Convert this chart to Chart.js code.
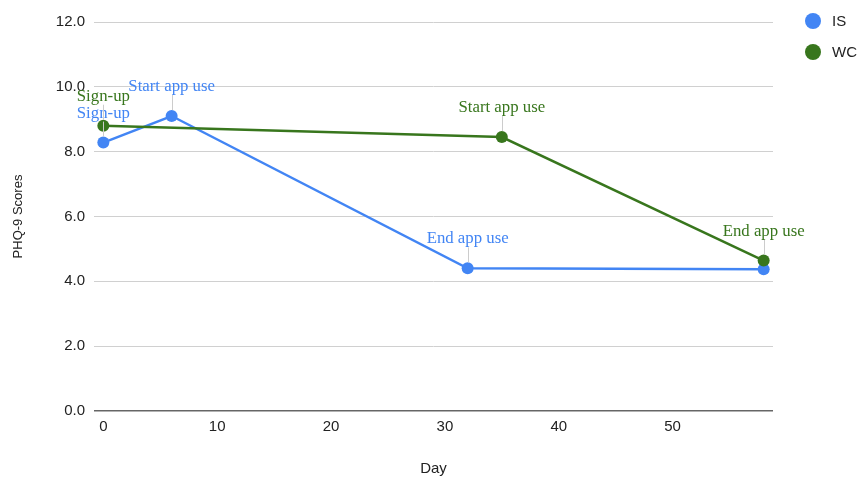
<!DOCTYPE html>
<html>
<head>
<meta charset="utf-8">
<title>PHQ-9 Scores by Day</title>
<script src="https://cdn.jsdelivr.net/npm/chart.js@4.4.1/dist/chart.umd.min.js"></script>
<style>
  html, body { margin: 0; padding: 0; background: #fff; }
  canvas { display: block; }
</style>
</head>
<body>
<canvas id="chart" width="860" height="479"></canvas>
<script>
// Series: day of study vs PHQ-9 score, with milestone notes per point
const seriesNames = ['IS', 'WC'];
const isDays = [0, 6, 32, 58];
const isScores = [8.28, 9.1, 4.4, 4.37];
const isNotes = ['Sign-up', 'Start app use', 'End app use', ''];
const wcDays = [0, 35, 58];
const wcScores = [8.8, 8.45, 4.64];
const wcNotes = ['Sign-up', 'Start app use', 'End app use'];
const xTicks = [0, 10, 20, 30, 40, 50];
const yTicks = [0, 2, 4, 6, 8, 10, 12];

const BLUE = '#4285f4';
const GREEN = '#38761d';

const toPoints = (xs, ys) => xs.map((x, i) => ({ x: x, y: ys[i] }));

// Milestone labels above points, each with a thin stem
const notesPlugin = {
  id: 'milestoneNotes',
  afterDatasetsDraw(chart) {
    const ctx = chart.ctx;
    ctx.save();
    chart.data.datasets.forEach((ds, di) => {
      const meta = chart.getDatasetMeta(di);
      meta.data.forEach((pt, i) => {
        const note = ds.notes[i];
        if (!note) return;
        ctx.strokeStyle = '#cccccc';
        ctx.lineWidth = 1;
        ctx.beginPath();
        ctx.moveTo(Math.round(pt.x) + 0.5, pt.y - 6);
        ctx.lineTo(Math.round(pt.x) + 0.5, pt.y - 21);
        ctx.stroke();
        ctx.font = '16.8px "Liberation Serif", "Times New Roman", serif';
        ctx.fillStyle = ds.borderColor;
        ctx.textAlign = 'center';
        ctx.textBaseline = 'alphabetic';
        ctx.fillText(note, pt.x, pt.y - 25);
      });
    });
    ctx.restore();
  }
};

// Legend at upper right: filled circle and series name
const sideLegend = {
  id: 'sideLegend',
  afterDraw(chart) {
    const ctx = chart.ctx;
    ctx.save();
    chart.data.datasets.forEach((ds, i) => {
      const y = 21 + i * 31;
      ctx.fillStyle = ds.borderColor;
      ctx.beginPath();
      ctx.arc(813, y, 8, 0, Math.PI * 2);
      ctx.fill();
      ctx.fillStyle = '#222222';
      ctx.font = '15px "Liberation Sans", Arial, sans-serif';
      ctx.textAlign = 'left';
      ctx.textBaseline = 'middle';
      ctx.fillText(ds.label, 832, y + 1);
    });
    ctx.restore();
  }
};

Chart.defaults.font.family = '"Liberation Sans", Arial, sans-serif';
Chart.defaults.color = '#222222';

new Chart(document.getElementById('chart'), {
  type: 'line',
  data: {
    datasets: [
      {
        label: seriesNames[0],
        data: toPoints(isDays, isScores),
        notes: isNotes,
        borderColor: BLUE,
        backgroundColor: BLUE,
        pointBackgroundColor: BLUE,
        pointBorderColor: BLUE,
        borderWidth: 2.5,
        pointRadius: 6,
        pointBorderWidth: 0,
        tension: 0,
        order: 1
      },
      {
        label: seriesNames[1],
        data: toPoints(wcDays, wcScores),
        notes: wcNotes,
        borderColor: GREEN,
        backgroundColor: GREEN,
        pointBackgroundColor: GREEN,
        pointBorderColor: GREEN,
        borderWidth: 2.5,
        pointRadius: 6,
        pointBorderWidth: 0,
        tension: 0,
        order: 0
      }
    ]
  },
  options: {
    responsive: false,
    devicePixelRatio: 1,
    animation: false,
    layout: { padding: { left: 0, top: 22, right: 87, bottom: 0 } },
    plugins: {
      legend: { display: false },
      tooltip: { enabled: false }
    },
    scales: {
      x: {
        type: 'linear',
        min: -0.82,
        max: 58.82,
        grid: { display: false, drawTicks: false },
        border: { display: false },
        afterBuildTicks: (s) => { s.ticks = xTicks.map(v => ({ value: v })); },
        afterFit: (s) => { s.height = 68; },
        ticks: {
          padding: 7,
          maxRotation: 0,
          font: { size: 15 },
          color: '#222222',
          callback: (v) => String(v)
        },
        title: {
          display: true,
          text: 'Day',
          font: { size: 15 },
          color: '#222222',
          padding: { top: 0, bottom: 1 }
        }
      },
      y: {
        type: 'linear',
        min: 0,
        max: 12,
        afterBuildTicks: (s) => { s.ticks = yTicks.map(v => ({ value: v })); },
        afterFit: (s) => { s.width = 94; },
        grid: {
          drawTicks: false,
          color: (c) => c.tick && c.tick.value === 0 ? '#666666' : '#d0d0d0',
          lineWidth: (c) => c.tick && c.tick.value === 0 ? 1.6 : 1
        },
        border: { display: false },
        ticks: {
          padding: 9,
          font: { size: 15 },
          color: '#222222',
          callback: (v) => Number(v).toFixed(1)
        },
        title: {
          display: true,
          text: 'PHQ-9 Scores',
          font: { size: 13 },
          color: '#222222',
          padding: { top: 11, bottom: 0 }
        }
      }
    }
  },
  plugins: [notesPlugin, sideLegend]
});
</script>
</body>
</html>
